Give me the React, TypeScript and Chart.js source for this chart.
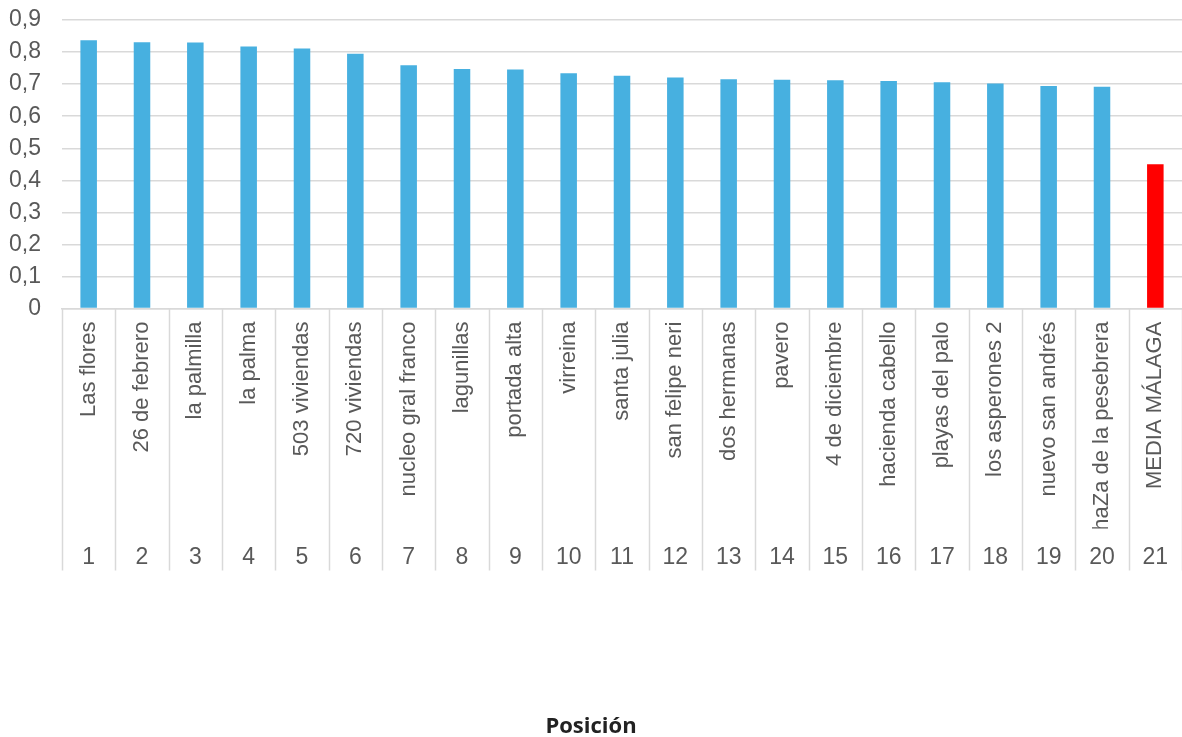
import React, { useEffect, useRef } from "react";
import { Chart, registerables } from "chart.js";

Chart.register(...registerables);

const NAMES = [
  "Las flores",
  "26 de febrero",
  "la palmilla",
  "la palma",
  "503 viviendas",
  "720 viviendas",
  "nucleo gral franco",
  "lagunillas",
  "portada alta",
  "virreina",
  "santa julia",
  "san felipe neri",
  "dos hermanas",
  "pavero",
  "4 de diciembre",
  "hacienda cabello",
  "playas del palo",
  "los asperones 2",
  "nuevo san andrés",
  "haZa de la pesebrera",
  "MEDIA MÁLAGA",
];

const POSITIONS = [
  "1", "2", "3", "4", "5", "6", "7", "8", "9", "10", "11",
  "12", "13", "14", "15", "16", "17", "18", "19", "20", "21",
];

const VALUES = [
  0.837, 0.831, 0.830, 0.817, 0.811, 0.795, 0.759, 0.747, 0.746, 0.734, 0.726,
  0.721, 0.715, 0.714, 0.712, 0.710, 0.706, 0.702, 0.694, 0.692, 0.450,
];

const Y_TICKS = [0, 0.1, 0.2, 0.3, 0.4, 0.5, 0.6, 0.7, 0.8, 0.9];

const AXIS_TITLE = "Posición";

const BLUE = "#47B0E0";
const RED = "#FF0000";
const GRID = "#D9D9D9";
const TEXT = "#595959";

const boundaryPlugin = {
  id: "boundaries",
  afterDraw(chart: any) {
    const x = chart.scales.x;
    const x2 = chart.scales.x2;
    if (!x || !x2) return;
    const ctx = chart.ctx;
    ctx.save();
    ctx.strokeStyle = GRID;
    ctx.lineWidth = 1.5;
    const top = chart.chartArea.bottom;
    const bottom = x2.bottom;
    for (let i = 0; i <= NAMES.length; i++) {
      const px = Math.round(x.getPixelForValue(i - 0.5)) + 0.5;
      ctx.beginPath();
      ctx.moveTo(px, top);
      ctx.lineTo(px, bottom);
      ctx.stroke();
    }
    ctx.restore();
  },
};

export default function App() {
  const ref = useRef<HTMLCanvasElement | null>(null);

  useEffect(() => {
    if (!ref.current) return;
    const colors = VALUES.map((_, i) => (i === VALUES.length - 1 ? RED : BLUE));
    const chart = new Chart(ref.current, {
      type: "bar",
      data: {
        labels: NAMES,
        datasets: [
          {
            data: VALUES,
            backgroundColor: colors,
            borderWidth: 0,
            categoryPercentage: 1,
            barPercentage: 0.31,
            xAxisID: "x",
          },
        ],
      },
      options: {
        responsive: false,
        animation: false,
        layout: { padding: { left: 0, top: 20, right: 0, bottom: 0 } },
        plugins: {
          legend: { display: false },
          tooltip: { enabled: false },
          title: {
            display: true,
            position: "bottom",
            text: AXIS_TITLE,
            color: "#222222",
            font: { family: "'Open Sans'", weight: "bold", size: 22 },
            padding: { top: 143, bottom: -3 },
          },
        },
        scales: {
          y: {
            min: 0,
            max: 0.9,
            afterBuildTicks: (scale: any) => {
              scale.ticks = Y_TICKS.map((v) => ({ value: v }));
            },
            afterFit: (scale: any) => {
              scale.width = 62;
              scale.paddingTop = 0;
              scale.paddingBottom = 0;
            },
            ticks: {
              color: TEXT,
              font: { family: "'Liberation Sans'", size: 23 },
              padding: 21,
              callback: (v: any) =>
                Number(v) === 0 ? "0" : Number(v).toFixed(1).replace(".", ","),
            },
            grid: { color: GRID, lineWidth: 1.5, drawTicks: false },
            border: { display: false },
          },
          x: {
            type: "category",
            labels: NAMES,
            offset: true,
            weight: 0,
            afterFit: (scale: any) => {
              scale.height = 220;
              scale.paddingLeft = 0;
              scale.paddingRight = 0;
            },
            ticks: {
              autoSkip: false,
              minRotation: 90,
              maxRotation: 90,
              padding: 13,
              color: TEXT,
              font: { family: "'Liberation Sans'", size: 22 },
            },
            grid: { display: true, drawOnChartArea: false, drawTicks: false, offset: true, color: GRID },
            border: { display: true, color: GRID, width: 1.5 },
          },
          x2: {
            type: "category",
            position: "bottom",
            labels: POSITIONS,
            offset: true,
            weight: 1,
            afterFit: (scale: any) => {
              scale.height = 42;
              scale.paddingLeft = 0;
              scale.paddingRight = 0;
            },
            ticks: {
              autoSkip: false,
              minRotation: 0,
              maxRotation: 0,
              padding: 15,
              color: TEXT,
              font: { family: "'Liberation Sans'", size: 23 },
            },
            grid: { display: false, drawTicks: false },
            border: { display: false },
          },
        },
      },
      plugins: [boundaryPlugin],
    } as any);
    return () => chart.destroy();
  }, []);

  return (
    <canvas
      ref={ref}
      width={1182}
      height={737}
      style={{ position: "absolute", left: 0, top: 0, display: "block" }}
    />
  );
}
